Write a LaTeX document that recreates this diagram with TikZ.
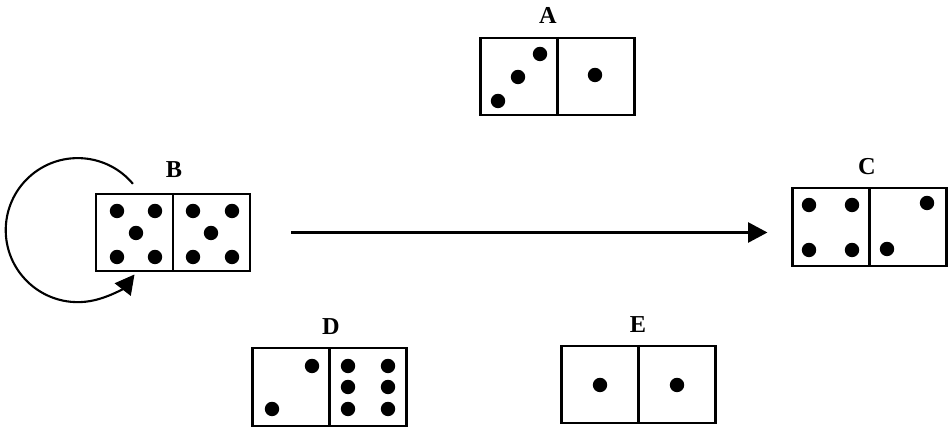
\documentclass[tikz,border=0pt]{standalone}
\usepackage{fontspec}
\setmainfont{Liberation Serif}
\usetikzlibrary{arrows.meta}

\begin{document}
\begin{tikzpicture}[x=0.025cm, y=0.025cm,
        domino/.style={rectangle, draw, line width=1.5pt, inner sep=0pt, minimum width=3.85cm, minimum height=1.93cm},
        dominotitle/.style={font=\LARGE\bfseries},
        bigarrow/.style={line width=1.5pt, -{Triangle[length=0.48cm, width=0.5cm]}}]
        \useasboundingbox (0,0) rectangle (950,427);

        % Draw dominoes
        \node[domino] (A) at (557.5,350.5) {};
        \node[domino] (B) at (173,194.5) {};
        \node[domino] (C) at (869.5,200) {};
        \node[domino] (D) at (329.5,40) {};
        \node[domino] (E) at (638.5,42.5) {};
        \foreach \d in {A,B,C,D,E}
            \draw[line width=1.5pt] (\d.north) -- (\d.south);

        % Draw titles
        \node[dominotitle] (tA) at (548,412) {A};
        \node[dominotitle] (tB) at (174,257) {B};
        \node[dominotitle] (tC) at (867,260) {C};
        \node[dominotitle] (tD) at (331,100) {D};
        \node[dominotitle] (tE) at (638,102) {E};

        % Draw pips
        \foreach \p in {(498,326),(518,350),(540,373),(595,352),
                        (117,216),(155,216),(136,194),(117,170),(155,170),
                        (193,216),(232,216),(211,194),(193,170),(232,170),
                        (809,222),(852,222),(927,224),(809,177),(852,177),(887,178),
                        (312,61),(272,18),(348,61),(388,61),(348,40),(388,40),(348,18),(388,18),
                        (600,42),(677,42)}
            \fill \p circle[radius=0.18cm];

        % Draw connections
        \draw[bigarrow, shorten <=1cm, shorten >=0.6cm] (B.east) -- (B.east -| C.west);
        \draw[bigarrow] ([shift={(38,9)}]B.north west) arc[start angle=40, end angle=322, radius=1.8cm];
    \end{tikzpicture}
\end{document}
